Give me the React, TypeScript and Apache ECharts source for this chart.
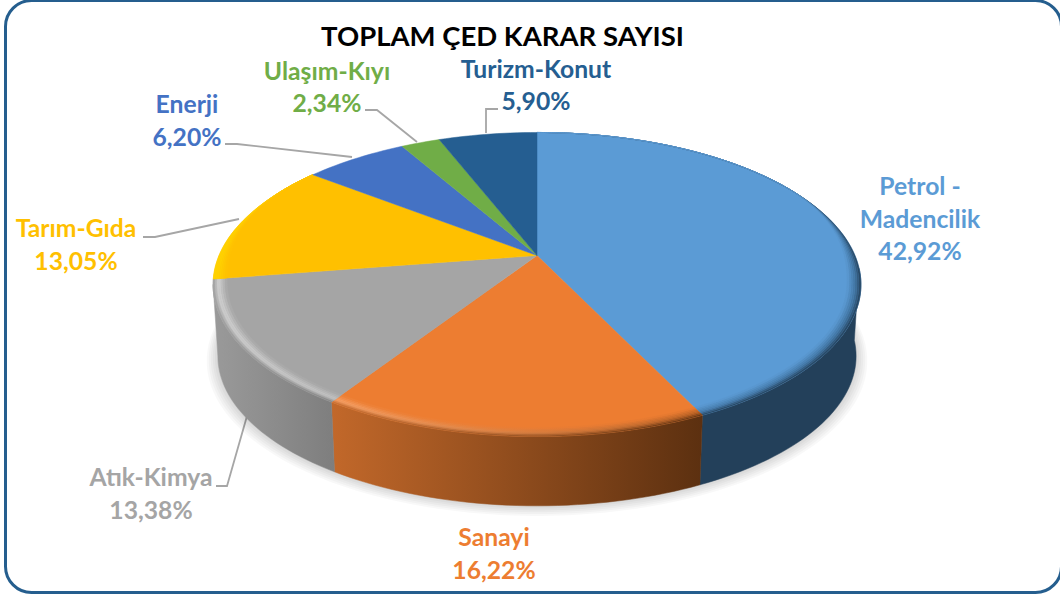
import React, { useEffect, useRef } from "react";
import * as echarts from "echarts";

const categories = ["Petrol -\nMadencilik", "Sanayi", "Atık-Kimya", "Tarım-Gıda", "Enerji", "Ulaşım-Kıyı", "Turizm-Konut"];
const shares = [42.92, 16.22, 13.38, 13.05, 6.2, 2.34, 5.9];
const chartTitle = "TOPLAM ÇED KARAR SAYISI";

const topColors = ["#5B9BD5", "#ED7D31", "#A5A5A5", "#FFC000", "#4472C4", "#70AD47", "#255E91"];
const labelAnchors = [[920, 218], [494, 553], [151, 493], [76, 244], [187, 120], [327, 86.5], [536, 84.5]];
const leaders = [
  null, null,
  [[216, 486], [227, 486], [247, 416]],
  [[143, 237], [155, 237], [239, 219]],
  [[225, 144], [237, 144], [352, 157]],
  [[365, 110], [377, 110], [417, 142]],
  [[486, 133], [486, 109], [498, 109]],
];
// side start/end, bevel highlight start/end for each slice
const sideTones = [
  ["#23405A", "#23405A", "#4F88BC", "#3F729F"],
  ["#C2682A", "#5C3010", "#F7A268", "#B45E22"],
  ["#9A9A9A", "#7E7E7E", "#D2D2D2", "#C4C4C4"],
  ["#FFD400", "#FFCC00", "#FFD000", "#FFC800"],
  ["#4472C4", "#4472C4", "#4472C4", "#4472C4"],
  ["#70AD47", "#70AD47", "#70AD47", "#70AD47"],
  ["#255E91", "#255E91", "#255E91", "#255E91"],
];

const FONT = "Lato";
const CX = 537, CY = 255.5, RX = 318, RY = 146.5, K = 0.1908;
const DEPTH = 72, LOWER = 0.985;
const deg = Math.PI / 180;
const total = shares.reduce((a, b) => a + b, 0);

function project(theta: number, r: number, yOff = 0, scale = 1) {
  const u = r * Math.sin(theta * deg);
  const v = -r * Math.cos(theta * deg);
  const w = 1 - K * v;
  return [CX + scale * RX * (u / w), CY + yOff + scale * RY * (v / w)];
}
function range(a: number, b: number) {
  const n = Math.max(2, Math.ceil((b - a) / 1.5));
  const out: number[] = [];
  for (let i = 0; i <= n; i++) out.push(a + ((b - a) * i) / n);
  return out;
}
function sliceAngles(i: number) {
  let s = 0;
  for (let j = 0; j < i; j++) s += shares[j];
  return [(s / total) * 360, ((s + shares[i]) / total) * 360];
}
function hex(c: string) {
  return [1, 3, 5].map((p) => parseInt(c.slice(p, p + 2), 16));
}
function mix(a: string, b: string, t: number) {
  const x = hex(a), y = hex(b);
  return "#" + x.map((v, i) => Math.round(v + (y[i] - v) * t).toString(16).padStart(2, "0")).join("");
}
function smooth(e0: number, e1: number, x: number) {
  const t = Math.min(1, Math.max(0, (x - e0) / (e1 - e0)));
  return t * t * (3 - 2 * t);
}
function bevelWidth(theta: number) {
  return 0.042 * smooth(-0.55, 0.2, -Math.cos(theta * deg));
}
function ringPoint(theta: number, t: number) {
  return project(theta, 1 - t * bevelWidth(theta));
}
const RINGS = [0, 0.14, 0.28, 0.42, 0.56, 0.7, 0.85, 1];
const SHADOW_LAYERS = [11, 9, 7, 5, 3, 1];

function renderShadow() {
  const angles = range(70, 290);
  const children = SHADOW_LAYERS.map((grow) => {
    const scale = LOWER + grow / RX;
    const pts = angles.map((t) => project(t, 1, DEPTH + grow * 0.35, scale));
    return {
      type: "polygon",
      shape: { points: pts },
      style: { fill: "rgba(0,0,0,0.028)" },
      silent: true,
    };
  });
  return { type: "group", children };
}

function renderSide(params: any, api: any) {
  const i = params.dataIndex;
  const [a0, b0] = sliceAngles(i);
  const a = Math.max(a0, 95), b = Math.min(b0, 259);
  if (b <= a) return { type: "group", children: [] };
  const thetas = range(a, b);
  const upper = thetas.map((t) => project(t, 1));
  const lower = thetas.map((t) => project(t, 1, DEPTH, LOWER)).reverse();
  const tone = sideTones[i];
  const fill = new echarts.graphic.LinearGradient(0, 0, 1, 0, [
    { offset: 0, color: tone[0] },
    { offset: 1, color: tone[1] },
  ]);
  return {
    type: "polygon",
    shape: { points: upper.concat(lower) },
    style: { fill, stroke: fill, lineWidth: 0.5 },
    silent: true,
  };
}

function renderTop(params: any, api: any) {
  const i = params.dataIndex;
  const [a, b] = sliceAngles(i);
  const thetas = range(a, b);
  const rim = thetas.map((t) => project(t, 1));
  const top = topColors[i];
  const children: any[] = [
    {
      type: "polygon",
      shape: { points: [[CX, CY], ...rim] },
      style: { fill: top, stroke: top, lineWidth: 0.5 },
      silent: true,
    },
  ];
  const tone = sideTones[i];
  if (tone[0] !== top) {
    const xs = rim.map((p) => p[0]);
    const x0 = Math.min(...xs), x1 = Math.max(...xs);
    for (let r = 0; r < RINGS.length - 1; r++) {
      const t = (RINGS[r] + RINGS[r + 1]) / 2;
      const colorAt = (f: number) => {
        const side = mix(tone[0], tone[1], f);
        const hl = mix(tone[2], tone[3], f);
        return t < 0.4 ? mix(side, hl, t / 0.4) : mix(hl, top, (t - 0.4) / 0.6);
      };
      const fill = new echarts.graphic.LinearGradient(x0, 0, x1, 0, [
        { offset: 0, color: colorAt(0) },
        { offset: 0.5, color: colorAt(0.5) },
        { offset: 1, color: colorAt(1) },
      ], true);
      const outer = thetas.map((th) => ringPoint(th, RINGS[r]));
      const inner = thetas.map((th) => ringPoint(th, RINGS[r + 1])).reverse();
      children.push({
        type: "polygon",
        shape: { points: outer.concat(inner) },
        style: { fill, stroke: fill, lineWidth: 0.4 },
        silent: true,
      });
    }
  }
  return { type: "group", children };
}

function pct(v: number) {
  return v.toFixed(2).replace(".", ",") + "%";
}

export default function App() {
  const ref = useRef<HTMLDivElement>(null);
  useEffect(() => {
    document.body.style.margin = "0";
    const chart = echarts.init(ref.current!, null, { renderer: "svg" });
    const data = shares.map((v) => [v]);
    const labelEls = categories.map((c, i) => ({
      type: "text",
      x: labelAnchors[i][0],
      y: labelAnchors[i][1],
      silent: true,
      style: {
        text: `${c}\n${pct(shares[i])}`,
        fill: topColors[i],
        font: `bold 24.7px ${FONT}`,
        lineHeight: 32.5,
        align: "center",
        verticalAlign: "middle",
      },
    }));
    const lineEls = leaders
      .filter((l) => l)
      .map((l) => ({
        type: "polyline",
        silent: true,
        shape: { points: l },
        style: { stroke: "#A6A6A6", lineWidth: 1.8, fill: "none" },
      }));
    chart.setOption({
      animation: false,
      backgroundColor: "#ffffff",
      title: {
        text: chartTitle,
        left: 497.5,
        top: 16,
        textAlign: "center",
        textStyle: { fontFamily: FONT, fontWeight: "bold", fontSize: 27.5, color: "#000000" },
      },
      tooltip: { show: false },
      graphic: [
        {
          type: "rect",
          silent: true,
          shape: { x: 5.5, y: 0.5, width: 1056, height: 592, r: 26 },
          style: { fill: "none", stroke: "#255E8E", lineWidth: 3 },
        },
        ...lineEls,
        ...labelEls,
      ],
      series: [
        { type: "custom", coordinateSystem: "none", silent: true, renderItem: renderShadow, data: [[1]] },
        { type: "custom", coordinateSystem: "none", silent: true, renderItem: renderSide, data },
        { type: "custom", coordinateSystem: "none", silent: true, renderItem: renderTop, data },
      ],
    });
    return () => chart.dispose();
  }, []);
  return <div ref={ref} style={{ width: 1060, height: 594, position: "fixed", left: 0, top: 0 }} />;
}
